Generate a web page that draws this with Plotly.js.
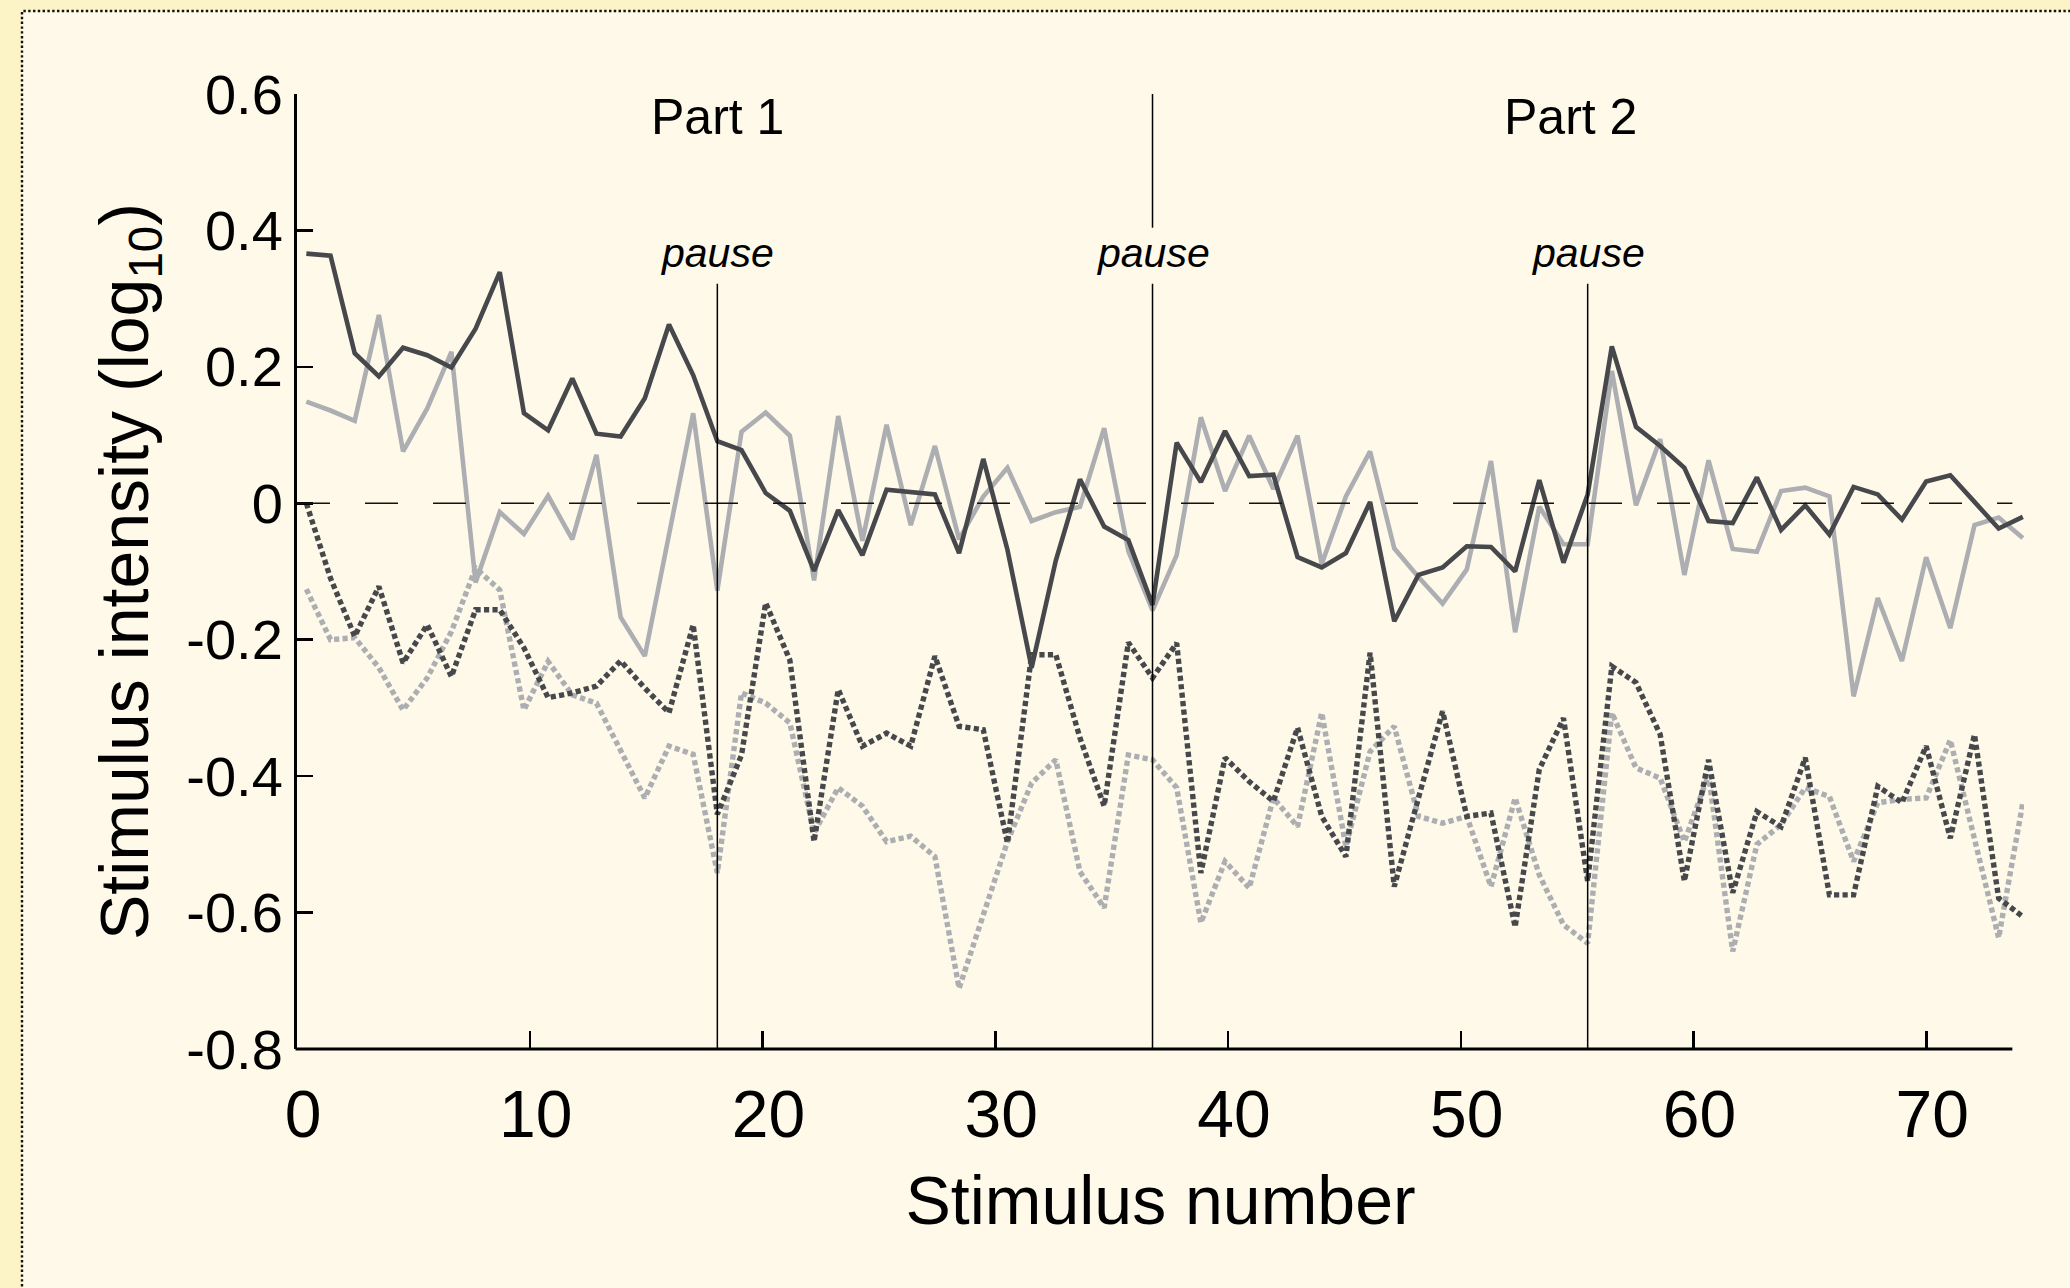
<!DOCTYPE html>
<html>
<head>
<meta charset="utf-8">
<script src="https://cdn.plot.ly/plotly-3.0.1.min.js"></script>
<style>
  html, body { margin: 0; padding: 0; background: #fcf4c6; }
  #chart { width: 2070px; height: 1288px; }
</style>
</head>
<body>
<div id="chart"></div>
<script>
// ---- data (72 stimuli, log10 intensity) ----
const darkSolid = [
  0.366, 0.363, 0.220, 0.186, 0.228, 0.217, 0.199, 0.256, 0.339, 0.132,
  0.107, 0.183, 0.102, 0.098, 0.154, 0.262, 0.188, 0.091, 0.078, 0.015,
  -0.011, -0.099, -0.010, -0.076, 0.020, 0.016, 0.013, -0.073, 0.065, -0.068,
  -0.241, -0.084, 0.035, -0.034, -0.054, -0.149, 0.089, 0.031, 0.106, 0.040,
  0.042, -0.079, -0.094, -0.073, 0.002, -0.173, -0.105, -0.094, -0.063, -0.064,
  -0.100, 0.034, -0.087, 0.013, 0.230, 0.112, 0.084, 0.052, -0.026, -0.029,
  0.038, -0.039, -0.003, -0.046, 0.024, 0.013, -0.024, 0.032, 0.041, 0.002,
  -0.037, -0.020
];
const lightSolid = [
  0.149, 0.136, 0.121, 0.276, 0.076, 0.139, 0.222, -0.116, -0.013, -0.045,
  0.011, -0.053, 0.071, -0.167, -0.224, -0.045, 0.132, -0.128, 0.105, 0.133,
  0.099, -0.113, 0.128, -0.055, 0.115, -0.032, 0.084, -0.053, 0.010, 0.052,
  -0.026, -0.013, -0.005, 0.110, -0.070, -0.157, -0.076, 0.126, 0.018, 0.099,
  0.021, 0.099, -0.089, 0.010, 0.076, -0.066, -0.108, -0.147, -0.097, 0.062,
  -0.189, -0.005, -0.060, -0.060, 0.194, -0.003, 0.094, -0.105, 0.063, -0.067,
  -0.071, 0.018, 0.023, 0.010, -0.283, -0.139, -0.231, -0.079, -0.183, -0.032,
  -0.021, -0.051
];
const darkDotted = [
  0.000, -0.110, -0.195, -0.122, -0.234, -0.178, -0.254, -0.156, -0.156, -0.212,
  -0.285, -0.278, -0.268, -0.231, -0.271, -0.307, -0.178, -0.456, -0.369, -0.146,
  -0.230, -0.496, -0.273, -0.356, -0.337, -0.356, -0.224, -0.327, -0.332, -0.498,
  -0.222, -0.222, -0.344, -0.444, -0.204, -0.256, -0.205, -0.542, -0.373, -0.408,
  -0.437, -0.329, -0.459, -0.518, -0.219, -0.562, -0.432, -0.305, -0.459, -0.454,
  -0.621, -0.390, -0.315, -0.554, -0.239, -0.263, -0.339, -0.554, -0.376, -0.571,
  -0.452, -0.474, -0.373, -0.574, -0.574, -0.415, -0.439, -0.356, -0.491, -0.339,
  -0.579, -0.606
];
const lightDotted = [
  -0.126, -0.200, -0.197, -0.241, -0.303, -0.256, -0.188, -0.095, -0.127, -0.303,
  -0.232, -0.281, -0.293, -0.364, -0.432, -0.356, -0.368, -0.542, -0.278, -0.293,
  -0.322, -0.483, -0.417, -0.444, -0.496, -0.488, -0.518, -0.711, -0.603, -0.496,
  -0.410, -0.376, -0.540, -0.593, -0.369, -0.376, -0.417, -0.615, -0.525, -0.564,
  -0.432, -0.474, -0.307, -0.503, -0.364, -0.327, -0.459, -0.469, -0.459, -0.562,
  -0.432, -0.545, -0.618, -0.645, -0.307, -0.388, -0.403, -0.496, -0.398, -0.657,
  -0.500, -0.471, -0.417, -0.430, -0.525, -0.439, -0.434, -0.432, -0.347, -0.491,
  -0.637, -0.439
];
const xTickVals = [0, 10, 20, 30, 40, 50, 60, 70];
const xTickText = ['0', '10', '20', '30', '40', '50', '60', '70'];
const yTickVals = [0.6, 0.4, 0.2, 0, -0.2, -0.4, -0.6, -0.8];
const yTickText = ['0.6', '0.4', '0.2', '0', '-0.2', '-0.4', '-0.6', '-0.8'];
const pauseIndex = [17, 35, 53];          // stimuli after which a pause occurs
const partLabels = ['Part 1', 'Part 2'];
const pauseLabel = 'pause';

// ---- placement of stimuli along the axis (as measured on the reference) ----
const X_FIRST = 0.402, X_STEP = 1.0387;
const stimX = darkSolid.map((_, i) => X_FIRST + i * X_STEP);
const pauseX = pauseIndex.map(i => stimX[i]);

const W = 2070, H = 1288;
const M = { l: 297, r: 46, t: 94, b: 239 };
const pw = W - M.l - M.r, ph = H - M.t - M.b;
const XMAX = 74.2, AXIS_END = 73.7;
const pxX = p => (p - M.l) / pw;
const pxY = p => (H - M.b - p) / ph;

const FONT = 'Liberation Sans, Arial, Helvetica, sans-serif';
const DARK = '#46484c', LIGHT = '#acaeb2';

function line(y, color, dash, width) {
  return {
    x: stimX, y: y, type: 'scatter', mode: 'lines', hoverinfo: 'skip',
    line: { color: color, width: width, dash: dash }, showlegend: false
  };
}
const DOTS = '5.2px,3.3px';
const traces = [
  line(lightDotted, LIGHT, DOTS, 5.4),
  line(darkDotted, DARK, DOTS, 5.4),
  line(lightSolid, LIGHT, 'solid', 4.6),
  line(darkSolid, DARK, 'solid', 4.6)
];

const shapes = [
  // framed panel
  { type: 'rect', xref: 'paper', yref: 'paper', layer: 'below',
    x0: pxX(22), x1: pxX(2110), y0: pxY(1330), y1: pxY(11),
    fillcolor: '#fef9e9', line: { color: '#111', width: 2.4, dash: '2.4px,2.4px' } },
  // zero reference
  { type: 'line', xref: 'x', yref: 'y', x0: 0, x1: AXIS_END, y0: 0, y1: 0,
    line: { color: '#111', width: 1.6, dash: '33px,35px' } },
  // x axis line
  { type: 'line', xref: 'paper', yref: 'paper', x0: pxX(295.5), x1: AXIS_END / XMAX, y0: 0, y1: 0,
    line: { color: '#000', width: 2.8 } },
  // part divider top segment
  { type: 'line', xref: 'x', yref: 'y', x0: pauseX[1], x1: pauseX[1], y0: 0.6, y1: 0.404,
    line: { color: '#000', width: 1.5 } }
];
pauseX.forEach(px => shapes.push({
  type: 'line', xref: 'x', yref: 'y', x0: px, x1: px, y0: 0.322, y1: -0.8,
  line: { color: '#000', width: 1.5 }
}));

const annotations = [
  { x: pauseX[0], y: 0.566, text: partLabels[0] },
  { x: 54.7, y: 0.566, text: partLabels[1] }
].map(a => Object.assign(a, { xref: 'x', yref: 'y', showarrow: false,
  font: { family: FONT, size: 50, color: '#000' } }));
pauseX.forEach(px => annotations.push({
  x: px, y: 0.367, xref: 'x', yref: 'y', showarrow: false,
  text: '<i>' + pauseLabel + '</i>', font: { family: FONT, size: 41, color: '#000' }
}));

const layout = {
  width: W, height: H, margin: M,
  paper_bgcolor: '#fcf4c6', plot_bgcolor: 'rgba(0,0,0,0)',
  font: { family: FONT, color: '#000' },
  showlegend: false,
  xaxis: {
    range: [0, XMAX], showgrid: false, zeroline: false, showline: false,
    ticks: 'inside', ticklen: 18, tickwidth: 2.5, tickcolor: '#000',
    tickvals: xTickVals, ticktext: xTickText, ticklabelshift: 6, ticklabelstandoff: 21,
    tickfont: { family: FONT, size: 66, color: '#000' },
    title: { text: 'Stimulus number', font: { family: FONT, size: 68, color: '#000' }, standoff: 26 }
  },
  yaxis: {
    range: [-0.8, 0.6], showgrid: false, zeroline: false,
    showline: true, linewidth: 3, linecolor: '#000',
    ticks: 'inside', ticklen: 16, tickwidth: 2.5, tickcolor: '#000',
    tickvals: yTickVals, ticktext: yTickText,
    tickfont: { family: FONT, size: 56, color: '#000' },
    title: { text: 'Stimulus intensity (log<sub>10</sub>)', font: { family: FONT, size: 68, color: '#000' }, standoff: 16 }
  },
  shapes: shapes,
  annotations: annotations
};

Plotly.newPlot('chart', traces, layout, { staticPlot: true, displayModeBar: false });
</script>
</body>
</html>
